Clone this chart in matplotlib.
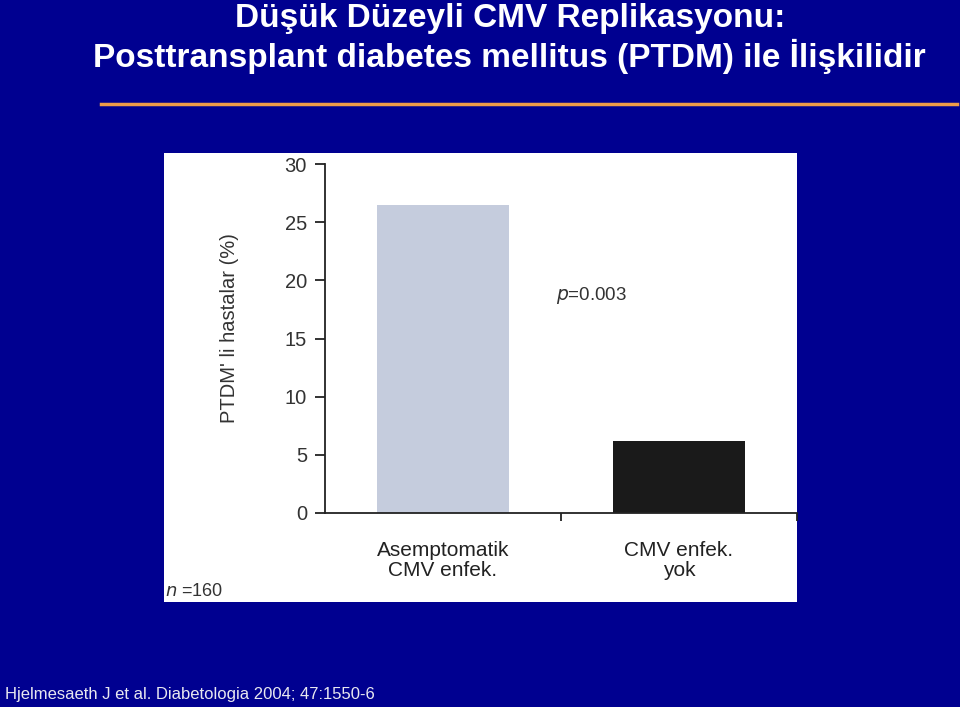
import matplotlib.pyplot as plt
from matplotlib.patches import Rectangle
from matplotlib.lines import Line2D

# data
categories = ["Asemptomatik\nCMV enfek.", "CMV enfek.\nyok"]
ptdm_pct = [26.5, 6.2]
bar_colors = ["#c5ccdd", "#1a1a1a"]
yticks = [0, 5, 10, 15, 20, 25, 30]

title_1 = "Düşük Düzeyli CMV Replikasyonu:"
title_2 = "Posttransplant diabetes mellitus (PTDM) ile İlişkilidir"
source = "Hjelmesaeth J et al. Diabetologia 2004; 47:1550-6"

bg = "#000090"
plt.rcParams["font.family"] = ["Liberation Sans", "DejaVu Sans"]

fig = plt.figure(figsize=(9.6, 7.07), dpi=100)
fig.patch.set_facecolor(bg)

# title block
fig.text(0.531, 1 - 18 / 707, title_1, ha="center", va="center", color="white",
         fontsize=24, fontweight="bold")
fig.text(0.531, 1 - 56 / 707, title_2, ha="center", va="center", color="white",
         fontsize=24, fontweight="bold")
fig.add_artist(Line2D([101 / 960, 957 / 960], [1 - 104 / 707, 1 - 104 / 707],
                      color="#ee9c48", lw=2.5, transform=fig.transFigure))

# white panel behind the chart
fig.add_artist(Rectangle((164 / 960, 1 - 602 / 707), (797 - 164) / 960,
                         (602 - 153) / 707, transform=fig.transFigure,
                         facecolor="white", edgecolor="none", zorder=0))

ax = fig.add_axes([325 / 960, 1 - 513 / 707, (797 - 325) / 960, (513 - 164) / 707])
ax.patch.set_alpha(0)

x = list(range(len(categories)))
ax.bar(x, ptdm_pct, width=0.56, color=bar_colors, zorder=2)

ax.set_xlim(-0.5, 1.5)
ax.set_ylim(0, 30)
ax.set_yticks(yticks)
ax.set_xticks([0.5, 1.5])
ax.set_xticklabels([])
for i, lab in enumerate(categories):
    ax.text(i, -2.4, lab, ha="center", va="top", fontsize=15,
            color="#222222", linespacing=1.1)

ax.spines["top"].set_visible(False)
ax.spines["right"].set_visible(False)
for side in ("left", "bottom"):
    ax.spines[side].set_color("#222222")
    ax.spines[side].set_linewidth(1.3)
ax.tick_params(axis="y", direction="out", length=7, width=1.3, pad=6,
               labelsize=14.5, labelcolor="#333333", color="#222222")
ax.tick_params(axis="x", direction="out", length=6, width=1.3, color="#222222")

ax.set_ylabel("PTDM' li hastalar (%)", fontsize=14.5, color="#333333")
ax.yaxis.set_label_coords(-0.182, 0.53)

ax.text(0.48, 18.7, "$p$=0.003", fontsize=13.5, color="#333333", ha="left", va="center")

fig.text(165 / 960, 1 - 592 / 707, "$n$ =160", fontsize=13, color="#333333",
         ha="left", va="center")

fig.text(5 / 960, 1 - 695 / 707, source, fontsize=12, color="#e8e8f0",
         ha="left", va="center")

fig.savefig("out.png", dpi=100, facecolor=bg)
